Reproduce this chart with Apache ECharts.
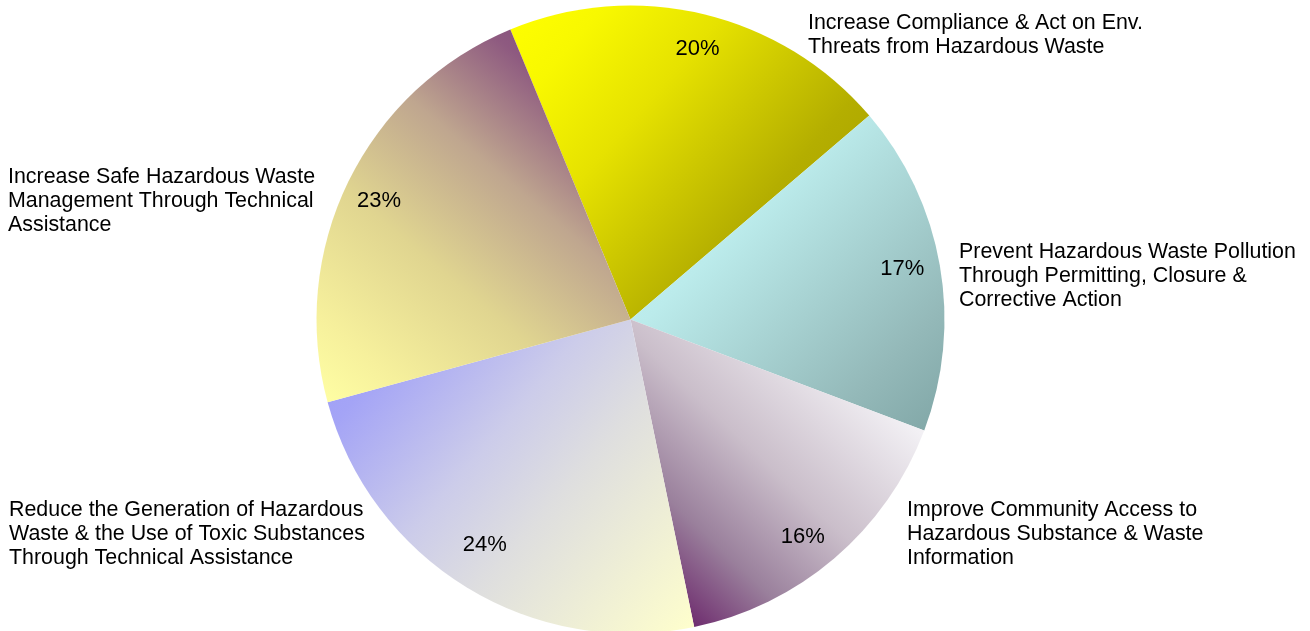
<!DOCTYPE html>
<html>
<head>
<meta charset="utf-8">
<script src="https://cdn.jsdelivr.net/npm/echarts@6/dist/echarts.min.js"></script>
<style>
  html, body { margin: 0; padding: 0; background: #ffffff; }
  #chart { width: 1310px; height: 631px; }
</style>
</head>
<body>
<div id="chart"></div>
<script>
// Program goals (clockwise from the top-left edge) and their budget shares, in percent
const categories = [
  'Increase Compliance & Act on Env.\nThreats from Hazardous Waste',
  'Prevent Hazardous Waste Pollution\nThrough Permitting, Closure &\nCorrective Action',
  'Improve Community Access to\nHazardous Substance & Waste\nInformation',
  'Reduce the Generation of Hazardous\nWaste & the Use of Toxic Substances\nThrough Technical Assistance',
  'Increase Safe Hazardous Waste\nManagement Through Technical\nAssistance'
];
const shares = [20, 17, 16, 24, 23];

// Gradient fills per slice: direction in the slice box plus colour stops
const fills = [
  { dir: [0, 0, 1, 1], stops: [[0, '#FFFF00'], [0.15, '#F8F800'], [0.35, '#E6E200'], [0.67, '#B4AE00'], [1, '#A09800']] },
  { dir: [0, 0, 1, 1], stops: [[0, '#C8F8F8'], [0.35, '#BBEBEB'], [0.8, '#94B9B9'], [1, '#80A6A6']] },
  { dir: [1, 0, 0, 1], stops: [[0, '#FFFFFF'], [0.2, '#F2F0F4'], [0.5, '#CABECA'], [0.72, '#9A809C'], [0.9, '#6E2C6E'], [1, '#602060']] },
  { dir: [0, 0, 1, 1], stops: [[0, '#9C9CF8'], [0.15, '#A4A4F6'], [0.42, '#CCCCEA'], [0.6, '#DEDEDF'], [1, '#FFFFCC']] },
  { dir: [1, 0, 0, 1], stops: [[0, '#7A3E78'], [0.19, '#8E5A80'], [0.4, '#BFA68F'], [0.63, '#E0D590'], [0.86, '#F6F09C'], [1, '#FFFFA4']] }
];

// Where each category caption sits (left edge, vertical middle of the block)
const captionSpots = [
  [808, 35], [959, 276], [907, 534], [9, 534], [8, 201]
];
// Small nudges for the percentage labels away from the ring's mid-line
const percentNudges = [
  [2, 1], [-3, -3], [-9, 5], [0, -12], [-1, 4]
];

const FONT = "'Liberation Sans', Arial, sans-serif";
const CENTER = [630.5, 319.5];
const RADIUS = 314;
const START = 112.5;

const chart = echarts.init(document.getElementById('chart'), null, { renderer: 'canvas' });

const sliceData = categories.map((name, i) => ({
  name: name,
  value: shares[i],
  itemStyle: {
    color: new echarts.graphic.LinearGradient(
      fills[i].dir[0], fills[i].dir[1], fills[i].dir[2], fills[i].dir[3],
      fills[i].stops.map(s => ({ offset: s[0], color: s[1] }))
    )
  }
}));

chart.setOption({
  animation: false,
  backgroundColor: '#ffffff',
  series: [
    {
      // the pie itself, with the category captions
      type: 'pie',
      center: CENTER,
      radius: [0, RADIUS],
      startAngle: START,
      clockwise: true,
      silent: true,
      avoidLabelOverlap: false,
      itemStyle: { borderWidth: 0 },
      label: {
        show: true,
        position: 'outside',
        formatter: '{b}',
        color: '#000000',
        fontFamily: FONT,
        fontSize: 21.4,
        lineHeight: 24.2
      },
      labelLine: { show: false },
      labelLayout: function (params) {
        const p = captionSpots[params.dataIndex];
        return { x: p[0], y: p[1], align: 'left', verticalAlign: 'middle', hideOverlap: false, moveOverlap: null };
      },
      emphasis: { disabled: true },
      data: sliceData
    },
    {
      // transparent outer ring that carries the percentage labels near the rim
      type: 'pie',
      center: CENTER,
      radius: [238, RADIUS],
      startAngle: START,
      clockwise: true,
      silent: true,
      z: 3,
      itemStyle: { color: 'rgba(0,0,0,0)', borderWidth: 0 },
      label: {
        show: true,
        position: 'inside',
        formatter: '{c}%',
        color: '#000000',
        fontFamily: FONT,
        fontSize: 22
      },
      labelLine: { show: false },
      labelLayout: function (params) {
        const n = percentNudges[params.dataIndex];
        return { dx: n[0], dy: n[1] };
      },
      emphasis: { disabled: true },
      data: categories.map((name, i) => ({ name: name, value: shares[i] }))
    }
  ]
});
</script>
</body>
</html>
